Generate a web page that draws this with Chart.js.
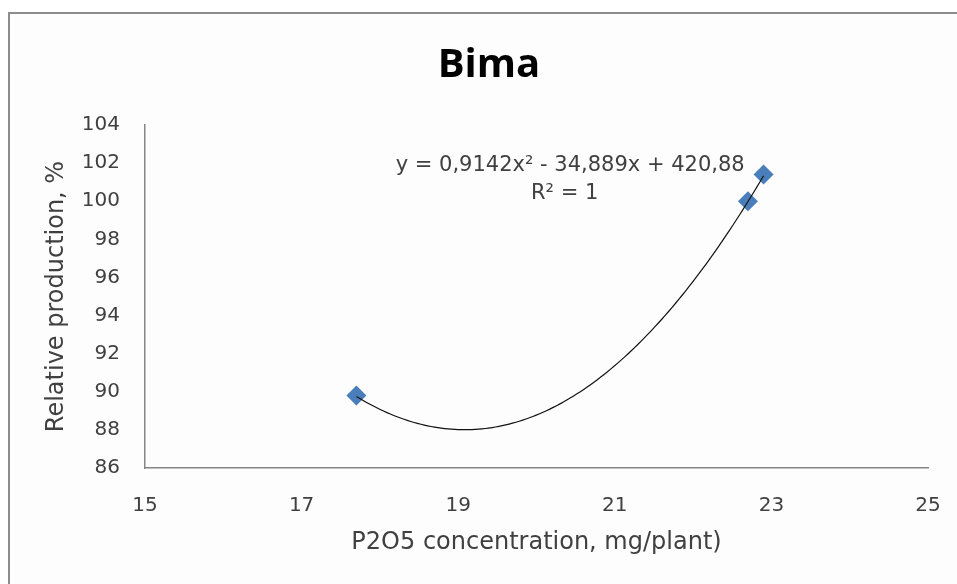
<!DOCTYPE html>
<html>
<head>
<meta charset="utf-8">
<script src="https://cdn.jsdelivr.net/npm/chart.js@4.4.1/dist/chart.umd.min.js"></script>
<style>
  html, body { margin: 0; padding: 0; background: #fff; }
  #wrap { position: relative; width: 957px; height: 584px; overflow: hidden; }
  #frame {
    position: absolute; left: 8px; top: 12px; width: 970px; height: 600px;
    border-left: 2px solid #8c8c8c; border-top: 2px solid #8c8c8c;
    background: #fdfdfd;
  }
  canvas { position: absolute; left: 0; top: 0; }
</style>
</head>
<body>
<div id="wrap">
  <div id="frame"></div>
  <canvas id="bimaChart" width="957" height="584"></canvas>
</div>
<script>
// measured points (P2O5 mg/plant, relative production %)
const concentration = [17.7, 22.7, 22.9];
const production = [89.8, 100.0, 101.4];

// trendline shown on the chart: y = a*x^2 + b*x + c
const trendCoefs = [0.9142, -34.889, 420.88];
const trendLabel = ['y = 0,9142x\u00b2 - 34,889x + 420,88', 'R\u00b2 = 1'];

const xTicks = [15, 17, 19, 21, 23, 25];
const yTicks = [86, 88, 90, 92, 94, 96, 98, 100, 102, 104];

const tickColor = '#404040';
const axisColor = '#868686';
const fontFamily = "'DejaVu Sans', sans-serif";

// draws the polynomial trendline and its equation through the chart scales
const trendlinePlugin = {
  id: 'trendline',
  afterDatasetsDraw(chart) {
    const { ctx, scales: { x, y } } = chart;
    const xMin = Math.min(...concentration);
    const xMax = Math.max(...concentration);
    const [a, b, c] = trendCoefs;
    ctx.save();
    ctx.beginPath();
    const steps = 120;
    for (let i = 0; i <= steps; i++) {
      const xv = xMin + (xMax - xMin) * i / steps;
      const yv = a * xv * xv + b * xv + c;
      const px = x.getPixelForValue(xv);
      const py = y.getPixelForValue(yv);
      if (i === 0) ctx.moveTo(px, py); else ctx.lineTo(px, py);
    }
    ctx.strokeStyle = '#111';
    ctx.lineWidth = 1.2;
    ctx.stroke();

    ctx.fillStyle = tickColor;
    ctx.font = '21px ' + fontFamily;
    ctx.textAlign = 'center';
    ctx.textBaseline = 'middle';
    ctx.fillText(trendLabel[0], x.getPixelForValue(20.43), y.getPixelForValue(101.85));
    ctx.fillText(trendLabel[1], x.getPixelForValue(20.36), y.getPixelForValue(100.4));
    ctx.restore();
  }
};

document.addEventListener('DOMContentLoaded', () => {
  const ctx = document.getElementById('bimaChart').getContext('2d');
  new Chart(ctx, {
    type: 'scatter',
    data: {
      datasets: [{
        label: 'Bima',
        data: concentration.map((v, i) => ({ x: v, y: production[i] })),
        pointStyle: 'rectRot',
        pointRadius: 10,
        pointHoverRadius: 10,
        backgroundColor: '#4a7ebb',
        borderColor: '#4a7ebb',
        borderWidth: 0
      }]
    },
    options: {
      responsive: false,
      animation: false,
      events: [],
      layout: { padding: { left: 31, top: 0, right: 10, bottom: 10 } },
      plugins: {
        legend: { display: false },
        tooltip: { enabled: false },
        title: {
          display: true,
          text: 'Bima',
          color: '#000',
          font: { family: "'Open Sans', sans-serif", size: 40, weight: 'bold', lineHeight: 1.2 },
          padding: { top: 42, bottom: 35 }
        }
      },
      scales: {
        x: {
          type: 'linear',
          min: 15,
          max: 25,
          afterBuildTicks: (scale) => { scale.ticks = xTicks.map(v => ({ value: v })); },
          afterFit: (scale) => {
            scale.height = 106;
            scale.paddingLeft = 0;
            scale.paddingRight = 29;
          },
          grid: { display: false, drawTicks: false },
          border: { display: true, color: axisColor, width: 1.5 },
          ticks: { color: tickColor, padding: 26, font: { family: fontFamily, size: 20 } },
          title: {
            display: true,
            text: 'P2O5 concentration, mg/plant)',
            color: tickColor,
            font: { family: fontFamily, size: 24, lineHeight: 1.2 },
            padding: { top: 0, bottom: 17 }
          }
        },
        y: {
          type: 'linear',
          min: 86,
          max: 104,
          afterBuildTicks: (scale) => { scale.ticks = yTicks.map(v => ({ value: v })); },
          afterFit: (scale) => { scale.width = 114; },
          grid: { display: false, drawTicks: false },
          border: { display: true, color: axisColor, width: 1.5 },
          ticks: { color: tickColor, padding: 25, font: { family: fontFamily, size: 20 } },
          title: {
            display: true,
            text: 'Relative production, %',
            color: tickColor,
            font: { family: fontFamily, size: 24, lineHeight: 1.2 },
            padding: { top: 11, bottom: 0 }
          }
        }
      }
    },
    plugins: [trendlinePlugin]
  });
});
</script>
</body>
</html>
